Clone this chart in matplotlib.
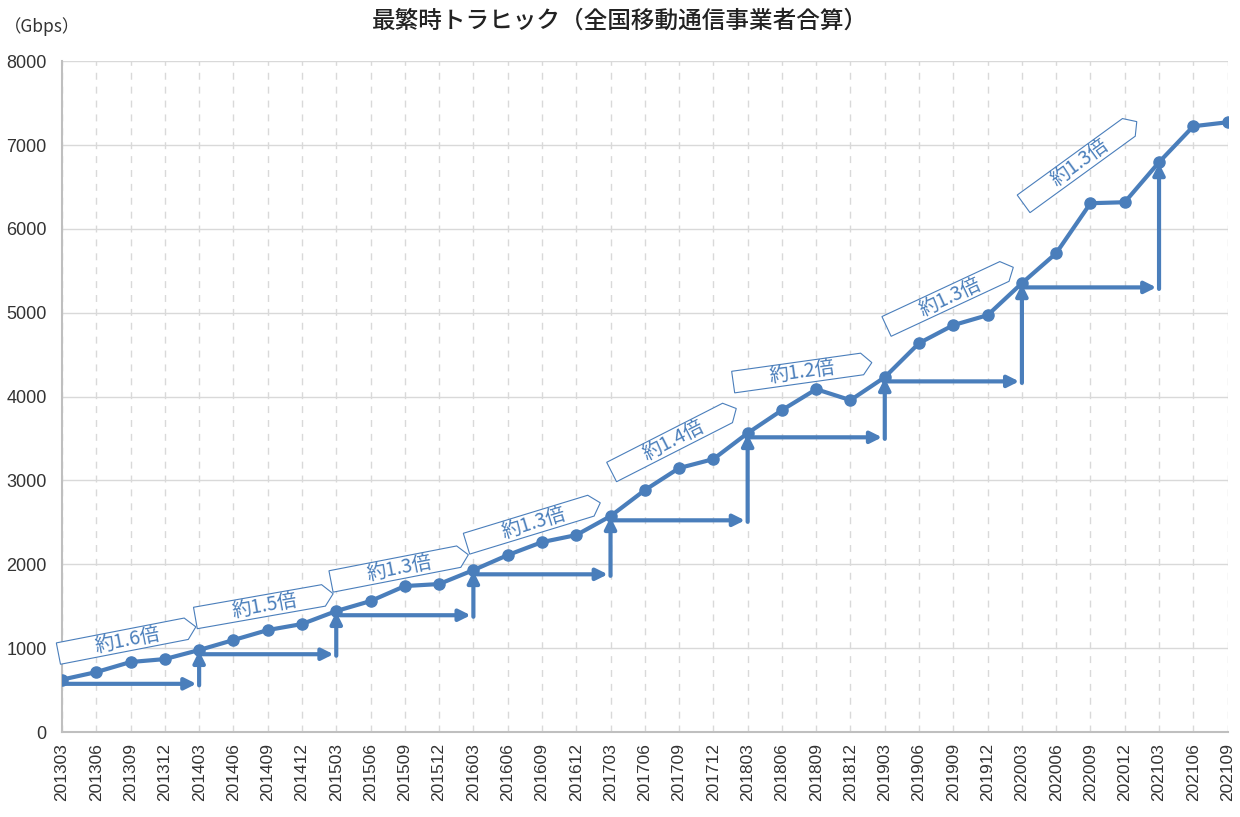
import matplotlib.pyplot as plt
from matplotlib.path import Path

plt.rcParams['font.family'] = ['Noto Sans CJK JP', 'DejaVu Sans']

title = "最繁時トラヒック（全国移動通信事業者合算）"
unit = "（Gbps）"

months = ["201303", "201306", "201309", "201312", "201403", "201406", "201409", "201412",
          "201503", "201506", "201509", "201512", "201603", "201606", "201609", "201612",
          "201703", "201706", "201709", "201712", "201803", "201806", "201809", "201812",
          "201903", "201906", "201909", "201912", "202003", "202006", "202009", "202012",
          "202103", "202106", "202109"]
traffic = [625, 715, 835, 870, 978, 1097, 1216, 1288,
           1443, 1562, 1741, 1765, 1931, 2110, 2265, 2349,
           2575, 2885, 3148, 3255, 3565, 3839, 4089, 3958,
           4232, 4638, 4853, 4972, 5353, 5711, 6307, 6319,
           6796, 7225, 7273]

# year-on-year ratio for each March -> March step
ratios = ["約1.6倍", "約1.5倍", "約1.3倍", "約1.3倍", "約1.4倍", "約1.2倍", "約1.3倍", "約1.3倍"]

# where the ratio callouts sit (x index, y value, rotation in degrees)
label_layout = [(1.9, 1095, 11), (5.9, 1505, 10), (9.85, 1955, 11), (13.75, 2490, 17),
                (17.85, 3480, 27), (21.6, 4290, 8), (25.9, 5190, 25), (29.7, 6790, 36)]

blue = "#4A7EBB"
grid = "#D9D9D9"
tick_font = "Liberation Sans"


def home_plate(x0, y0, width, height, mutation_size):
    # pentagon callout, pointing right
    padx = 1.9 * mutation_size
    pady = 0.02 * mutation_size
    x0 -= padx
    y0 -= pady
    x1 = x0 + width + 2 * padx
    y1 = y0 + height + 2 * pady
    tip = 0.45 * (y1 - y0)
    x1 -= tip
    ym = (y0 + y1) / 2
    verts = [(x0, y0), (x1, y0), (x1 + tip, ym), (x1, y1), (x0, y1), (x0, y0)]
    codes = [Path.MOVETO] + [Path.LINETO] * 4 + [Path.CLOSEPOLY]
    return Path(verts, codes)


fig = plt.figure(figsize=(12.4, 8.17), dpi=100)
ax = fig.add_axes([0.05, 0.104, 0.94, 0.821])

x = list(range(len(months)))
ax.plot(x, traffic, color=blue, lw=3, marker="o", ms=8, zorder=5)

# step arrows between each March value
march = [i for i, m in enumerate(months) if m.endswith("03")]
for a, b in zip(march[:-1], march[1:]):
    level = traffic[a] - 50
    ax.annotate("", xy=(b - 0.08, level), xytext=(a + 0.1, level),
                arrowprops=dict(arrowstyle="-|>", color=blue, lw=3, mutation_scale=17,
                                shrinkA=0, shrinkB=0), zorder=4)
    ax.annotate("", xy=(b, traffic[b] - 10), xytext=(b, level - 18),
                arrowprops=dict(arrowstyle="-|>", color=blue, lw=3, mutation_scale=17,
                                shrinkA=0, shrinkB=0), zorder=4)

for txt, (lx, ly, rot) in zip(ratios, label_layout):
    ax.text(lx, ly, txt, fontsize=14, color=blue, rotation=rot, rotation_mode="anchor",
            ha="center", va="center", zorder=6,
            bbox=dict(boxstyle=home_plate, fc="white", ec=blue, lw=0.8))

ax.set_xlim(0, len(months) - 1)
ax.set_ylim(0, 8000)
ax.set_xticks(x)
ax.set_xticklabels(months, rotation=90)
ax.set_yticks(range(0, 8001, 1000))
ax.set_yticklabels([str(v) for v in range(0, 8001, 1000)])
for lbl in ax.get_xticklabels():
    lbl.set_fontfamily(tick_font)
    lbl.set_fontsize(12.5)
    lbl.set_color("#333333")
for lbl in ax.get_yticklabels():
    lbl.set_fontfamily(tick_font)
    lbl.set_fontsize(13)
    lbl.set_color("#333333")
ax.tick_params(axis="x", length=0, pad=8)
ax.tick_params(axis="y", length=0, pad=11)

ax.grid(axis="y", color=grid, lw=1)
ax.grid(axis="x", color=grid, lw=1, linestyle=(0, (5, 5)))
ax.set_axisbelow(True)
for s in ["top", "right"]:
    ax.spines[s].set_visible(False)
for s in ["left", "bottom"]:
    ax.spines[s].set_color("#BFBFBF")
    ax.spines[s].set_linewidth(1.5)

fig.text(0.5, 0.974, title, ha="center", va="center", fontsize=17, fontweight="medium",
         color="#222222")
fig.text(0.003, 0.968, unit, ha="left", va="center", fontsize=12.5, color="#333333")

fig.savefig("out.png", dpi=100)
